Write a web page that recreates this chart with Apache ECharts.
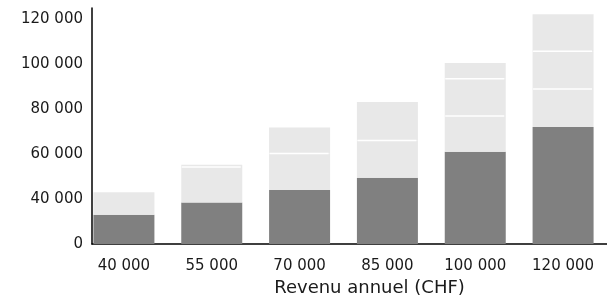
<!DOCTYPE html>
<html>
<head>
<meta charset="utf-8">
<script src="https://cdn.jsdelivr.net/npm/echarts@6/dist/echarts.min.js"></script>
<style>
  html, body { margin: 0; padding: 0; background: #fff; }
  #chart { width: 607px; height: 302px; }
</style>
</head>
<body>
<div id="chart"></div>
<script>
  // categories (annual income)
  let incomes = ["40 000", "55 000", "70 000", "85 000", "100 000", "120 000"];
  // dark base part of each bar
  let basePart = [33000, 38500, 44000, 49500, 61000, 72000];
  // light parts stacked on top, split by white lines
  let tierA = [10000, 15800, 16300, 16500, 16000, 17000];
  let tierB = [0, 1000, 11500, 17200, 16500, 16800];
  let tierC = [0, 0, 0, 0, 7000, 16400];
  // y axis: bottom tick is labelled 0
  let yMin = 20000;
  let yMax = 125000;
  let yStep = 20000;

  function fmt(v) {
    if (v === yMin) return "0";
    if (v > 120000) return "";
    return String(v).replace(/\B(?=(\d{3})+(?!\d))/g, " ");
  }

  // white separator lines between the light parts
  let sepLines = [];
  for (let i = 0; i < incomes.length; i++) {
    let top = basePart[i] + tierA[i];
    if (tierB[i] > 0) sepLines.push([i, top]);
    top += tierB[i];
    if (tierC[i] > 0) sepLines.push([i, top]);
  }

  let chart = echarts.init(document.getElementById("chart"));
  let font = "DejaVu Sans";
  let txt = "#1a1a1a";

  let option = {
    animation: false,
    grid: [
      { left: 80, right: -7, top: 8, bottom: 58 },
      { left: 92, right: 0, top: 8, bottom: 58 },
    ],
    xAxis: [
      {
        gridIndex: 0,
        type: "category",
        data: incomes,
        name: "Revenu annuel (CHF)",
        nameLocation: "middle",
        nameGap: 33,
        nameTextStyle: {
          fontFamily: font,
          fontSize: 18,
          color: txt,
          padding: [0, 0, 0, 52],
        },
        axisLine: { show: false },
        axisTick: { show: false },
        axisLabel: {
          margin: 15,
          fontFamily: font,
          fontSize: 15,
          color: txt,
        },
      },
      {
        gridIndex: 1,
        type: "value",
        min: 0,
        max: 1,
        axisLine: {
          show: true,
          onZero: false,
          lineStyle: { color: "#000", width: 1.5 },
        },
        axisTick: { show: false },
        axisLabel: { show: false },
        splitLine: { show: false },
      },
    ],
    yAxis: [
      {
        gridIndex: 0,
        type: "value",
        min: yMin,
        max: yMax,
        show: false,
      },
      {
        gridIndex: 1,
        type: "value",
        min: yMin,
        max: yMax,
        interval: yStep,
        splitLine: { show: false },
        axisTick: { show: false },
        axisLine: {
          show: true,
          onZero: false,
          lineStyle: { color: "#000", width: 1.5 },
        },
        axisLabel: {
          margin: 9,
          fontFamily: font,
          fontSize: 15,
          color: txt,
          showMaxLabel: false,
          formatter: fmt,
        },
      },
    ],
    series: [
      {
        type: "bar",
        stack: "total",
        barWidth: 61,
        itemStyle: { color: "#808080" },
        data: basePart,
      },
      { type: "bar", stack: "total", barWidth: 61, itemStyle: { color: "#e8e8e8" }, data: tierA },
      { type: "bar", stack: "total", barWidth: 61, itemStyle: { color: "#e8e8e8" }, data: tierB },
      { type: "bar", stack: "total", barWidth: 61, itemStyle: { color: "#e8e8e8" }, data: tierC },
      {
        type: "custom",
        z: 5,
        silent: true,
        data: sepLines,
        renderItem: function (params, api) {
          let p = api.coord([api.value(0), api.value(1)]);
          return {
            type: "line",
            shape: { x1: p[0] - 30, y1: p[1], x2: p[0] + 29, y2: p[1] },
            style: { stroke: "#fff", lineWidth: 1.5 },
          };
        },
      },
    ],
  };
  chart.setOption(option);
</script>
</body>
</html>
